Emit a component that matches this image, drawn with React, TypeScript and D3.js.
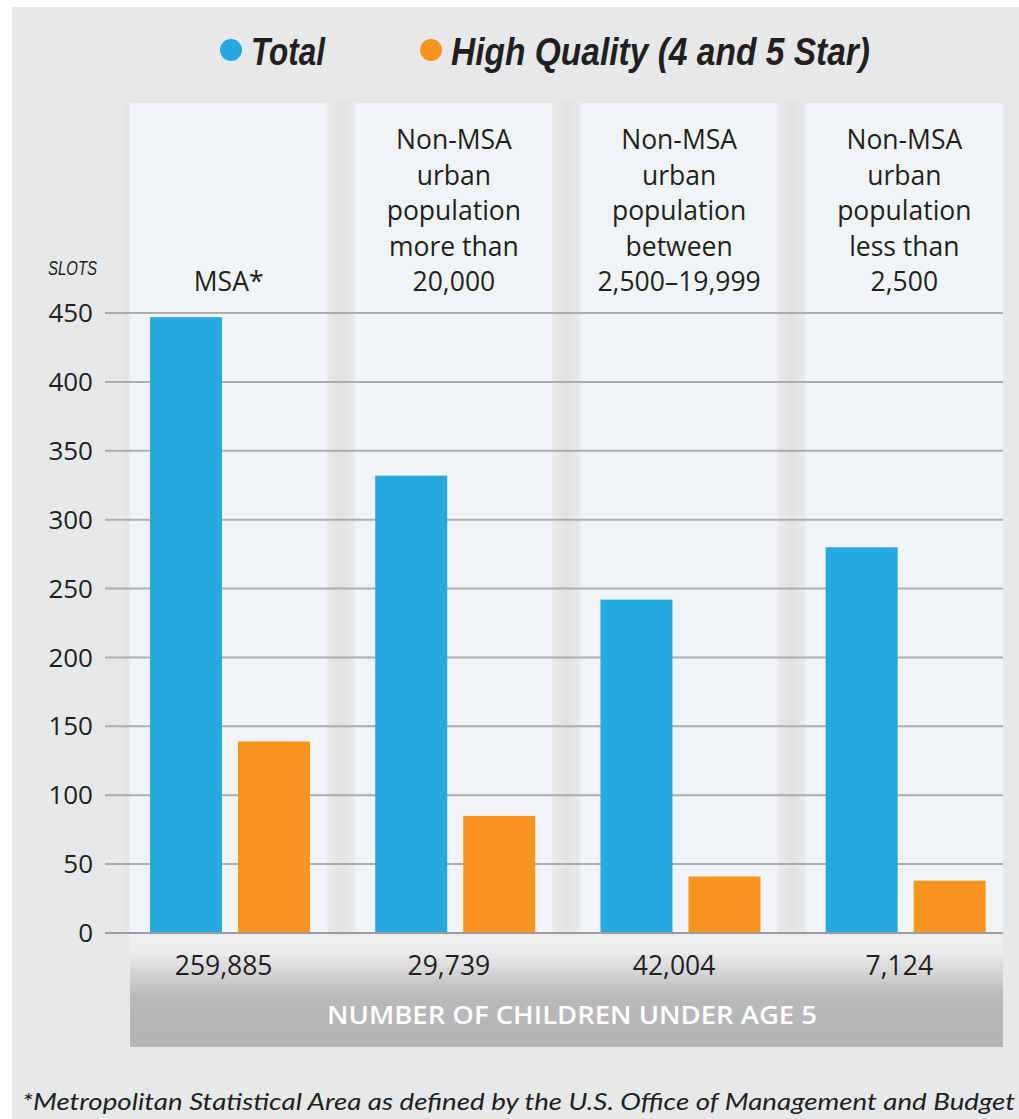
import React from "react";
import * as d3 from "d3";

const categories = ["MSA*", "Non-MSA >20,000", "Non-MSA 2,500-19,999", "Non-MSA <2,500"];
const categoryLines = [
  ["MSA*"],
  ["Non-MSA", "urban", "population", "more than", "20,000"],
  ["Non-MSA", "urban", "population", "between", "2,500\u201319,999"],
  ["Non-MSA", "urban", "population", "less than", "2,500"],
];
const childrenCounts = ["259,885", "29,739", "42,004", "7,124"];
const seriesNames = ["Total", "High Quality (4 and 5 Star)"];
const totalSlots = [447, 332, 242, 280];
const highQualitySlots = [139, 85, 41, 38];
const yTicks = [0, 50, 100, 150, 200, 250, 300, 350, 400, 450];
const colors = ["#27a8e0", "#f7941d"];

const W = 1019;
const H = 1119;
const FONT = "'Open Sans', 'Noto Sans', sans-serif";

export default function App() {
  const y = d3.scaleLinear().domain([0, 450]).range([933, 313]);
  const x0 = d3.scaleBand<string>().domain(categories).range([130, 1003]).paddingInner(0.124).paddingOuter(0);
  const x1 = d3.scaleBand<string>().domain(seriesNames).range([20, 180]).paddingInner(0.182).paddingOuter(0);
  const bw = x0.bandwidth();
  const gaps = categories.slice(0, -1).map((c, i) => [x0(c)! + bw, x0(categories[i + 1])!]);
  const seriesData = [totalSlots, highQualitySlots];

  return (
    <div style={{ position: "absolute", left: 0, top: 0 }}>
      <svg width={W} height={H} style={{ display: "block" }}>
        <defs>
          <linearGradient id="gapGrad" x1="0" x2="1" y1="0" y2="0">
            <stop offset="0" stopColor="#e8eaec" />
            <stop offset="0.5" stopColor="#e0e2e4" />
            <stop offset="1" stopColor="#e8eaec" />
          </linearGradient>
          <linearGradient id="bandGrad" x1="0" x2="0" y1="0" y2="1">
            <stop offset="0" stopColor="#f1f1f2" />
            <stop offset="0.15" stopColor="#ececee" />
            <stop offset="0.55" stopColor="#b9b9bc" />
            <stop offset="1" stopColor="#b4b4b7" />
          </linearGradient>
        </defs>
        <rect x={0} y={0} width={W} height={H} fill="#ffffff" />
        <rect x={12} y={7} width={W - 12} height={H - 7} fill="#e6e8ea" />

        {/* legend */}
        <g fontFamily="'Liberation Sans Narrow', 'Liberation Sans', sans-serif" fontWeight="bold" fontStyle="italic" fontSize={38} fill="#231f20">
          <circle cx={231} cy={50} r={11} fill={colors[0]} />
          <text x={251} y={65} textLength={74} lengthAdjust="spacingAndGlyphs">{seriesNames[0]}</text>
          <circle cx={431} cy={50} r={11} fill={colors[1]} />
          <text x={451} y={65} textLength={419} lengthAdjust="spacingAndGlyphs">{seriesNames[1]}</text>
        </g>

        {/* panels */}
        <rect x={122} y={100} width={8} height={833} fill="url(#gapGrad)" opacity={0.6} />
        {gaps.map(([a, b], i) => (
          <rect key={i} x={a} y={100} width={b - a} height={833} fill="url(#gapGrad)" />
        ))}
        {categories.map((c) => (
          <rect key={c} x={x0(c)} y={103} width={bw} height={830} fill="#f1f4f7" />
        ))}

        {/* category labels */}
        {categories.map((c, i) => {
          const lines = categoryLines[i];
          const n = lines.length;
          return (
            <text key={c} fontFamily={FONT} fontSize={26.5} fill="#231f20" textAnchor="middle">
              {lines.map((l, j) => (
                <tspan key={j} x={x0(c)! + bw / 2} y={291 - (n - 1 - j) * 35.4}>{l}</tspan>
              ))}
            </text>
          );
        })}

        {/* gridlines */}
        {yTicks.map((t) => (
          <line key={t} x1={105} x2={1003} y1={y(t)} y2={y(t)} stroke={t === 0 ? "#9d9d9f" : "#acadaf"} strokeWidth={2} />
        ))}

        {/* y axis labels */}
        <text x={97} y={275} fontFamily="'Liberation Sans Narrow', 'Liberation Sans', sans-serif" fontStyle="italic" fontSize={21} fill="#231f20" textAnchor="end" textLength={49} lengthAdjust="spacingAndGlyphs">SLOTS</text>
        {yTicks.map((t) => (
          <text key={t} x={93} y={y(t)} dy="0.35em" fontFamily={FONT} fontSize={26} fill="#231f20" textAnchor="end">{t}</text>
        ))}

        {/* bars */}
        {categories.map((c, i) => (
          <g key={c} transform={`translate(${x0(c)},0)`}>
            {seriesNames.map((s, k) => (
              <rect key={s} x={x1(s)} y={y(seriesData[k][i])} width={x1.bandwidth()} height={y(0) - y(seriesData[k][i]) - 1} fill={colors[k]} />
            ))}
          </g>
        ))}

        {/* bottom band */}
        <rect x={130} y={935} width={873} height={112} fill="url(#bandGrad)" />
        {categories.map((c, i) => (
          <text key={c} x={x0(c)! + bw / 2 - 5} y={975} fontFamily={FONT} fontSize={26.5} fill="#231f20" textAnchor="middle">{childrenCounts[i]}</text>
        ))}
        <text x={572} y={1024} fontFamily={FONT} fontWeight={600} fontSize={26} fill="#ffffff" textAnchor="middle" textLength={490} lengthAdjust="spacingAndGlyphs">NUMBER OF CHILDREN UNDER AGE 5</text>

        {/* footnote */}
        <text x={22} y={1110} fontFamily="Lato, 'Open Sans', sans-serif" fontStyle="italic" fontSize={24} fill="#231f20" textLength={993} lengthAdjust="spacingAndGlyphs">*Metropolitan Statistical Area as defined by the U.S. Office of Management and Budget</text>
      </svg>
    </div>
  );
}
